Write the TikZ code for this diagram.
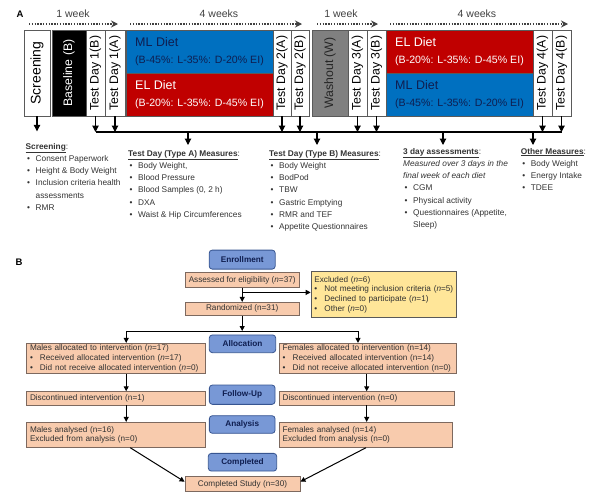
\documentclass[tikz,border=0pt]{standalone}
\usepackage{fontspec}
\setmainfont{Liberation Sans}
\usepackage{graphicx}
\usepackage{xcolor}
\usetikzlibrary{arrows.meta}

\definecolor{dietblue}{RGB}{0,112,192}
\definecolor{dietred}{RGB}{192,0,0}
\definecolor{navytext}{RGB}{15,30,80}
\definecolor{washgray}{RGB}{128,128,128}
\definecolor{boxline}{RGB}{90,90,90}
\definecolor{peach}{RGB}{248,203,173}
\definecolor{peachline}{RGB}{125,105,95}
\definecolor{stageblue}{RGB}{120,152,214}
\definecolor{stageline}{RGB}{55,85,145}
\definecolor{exclyellow}{RGB}{255,230,153}
\definecolor{txtgray}{RGB}{50,50,50}

\newcommand{\lbul}{\hspace*{1.5pt}\makebox[8.5pt][l]{\textbullet}}
\newcommand{\lcont}{\hspace*{10pt}}
\newcommand{\fbul}{\makebox[10pt][l]{\textbullet}}
\newcommand{\hd}[1]{\underline{\textbf{#1}}:}

\begin{document}
\begin{tikzpicture}[x=1pt,y=-1pt,
    vbox/.style={draw=boxline,line width=0.6pt,inner sep=0pt,minimum height=86pt,font=\fontsize{12.3}{14}\selectfont},
    diet/.style={draw=boxline,line width=0.6pt,inner sep=0pt,minimum width=147pt,minimum height=43pt,align=left,font=\fontsize{10.6}{17}\selectfont},
    week/.style={black!75,line width=1.4pt,dash pattern=on 1.3pt off 1.5pt,-{Stealth[length=7pt,width=7pt]}},
    wklabel/.style={text=black!75,font=\fontsize{10.5}{12}\selectfont},
    arr/.style={line width=1.1pt,-{Triangle[length=6.5pt,width=6.5pt]}},
    list/.style={anchor=north west,inner sep=0pt,align=left,text=black!80,font=\fontsize{8.3}{12.2}\selectfont},
    fbox/.style={draw=peachline,fill=peach,line width=0.8pt,inner xsep=3.3pt,inner ysep=0pt,align=left,text=txtgray,font=\fontsize{8.2}{9.7}\selectfont},
    stage/.style={draw=stageline,fill=stageblue,line width=0.8pt,rounded corners=3pt,text=navytext,font=\bfseries\fontsize{8.2}{9}\selectfont},
    farr/.style={line width=1pt,-{Triangle[length=5pt,width=5pt]}}]

  \useasboundingbox (0,0) rectangle (600,501);

  % panel A: timeline
  \node[font=\bfseries\fontsize{9.5}{11}\selectfont] (labA) at (20,14) {A};

  \node[wklabel] (wk1) at (73,14) {1 week};
  \node[wklabel] (wk2) at (219,14) {4 weeks};
  \node[wklabel] (wk3) at (341,14) {1 week};
  \node[wklabel] (wk4) at (477,14) {4 weeks};
  \draw[week] (29,24) -- (118,24);
  \draw[week] (130,24) -- (302,24);
  \draw[week] (317,24) -- (378,24);
  \draw[week] (390,24) -- (568,24);

  \node[vbox,minimum width=26pt] (screen) at (37,73) {\rotatebox{90}{\fontsize{14}{16}\selectfont Screening}};
  \node[vbox,fill=black,text=white,minimum width=34pt] (baseline) at (69,73) {\rotatebox{90}{Baseline (B)}};
  \node[vbox,minimum width=19pt] (td1b) at (95.5,73) {\rotatebox{90}{Test Day 1(B)}};
  \node[vbox,minimum width=20pt] (td1a) at (115,73) {\rotatebox{90}{Test Day 1(A)}};
  \node[diet,fill=dietblue,text=navytext] (ml1) at (199.5,51.5) {{\fontsize{12.5}{17}\selectfont ML Diet}\\(B-45\%: L-35\%: D-20\% EI)};
  \node[diet,fill=dietred,text=white] (el1) at (199.5,94.5) {{\fontsize{12.5}{17}\selectfont EL Diet}\\(B-20\%: L-35\%: D-45\% EI)};
  \node[vbox,minimum width=18pt] (td2a) at (282,73) {\rotatebox{90}{Test Day 2(A)}};
  \node[vbox,minimum width=18pt] (td2b) at (300,73) {\rotatebox{90}{Test Day 2(B)}};
  \node[vbox,fill=washgray,text=black!85,minimum width=36pt] (washout) at (330,73) {\rotatebox{90}{Washout (W)}};
  \node[vbox,minimum width=19pt] (td3a) at (357.5,73) {\rotatebox{90}{Test Day 3(A)}};
  \node[vbox,minimum width=19pt] (td3b) at (376.5,73) {\rotatebox{90}{Test Day 3(B)}};
  \node[diet,fill=dietred,text=white] (el2) at (459.5,51.5) {{\fontsize{12.5}{17}\selectfont EL Diet}\\(B-20\%: L-35\%: D-45\% EI)};
  \node[diet,fill=dietblue,text=navytext] (ml2) at (459.5,94.5) {{\fontsize{12.5}{17}\selectfont ML Diet}\\(B-45\%: L-35\%: D-20\% EI)};
  \node[vbox,minimum width=19pt] (td4a) at (542.5,73) {\rotatebox{90}{Test Day 4(A)}};
  \node[vbox,minimum width=19pt] (td4b) at (561.5,73) {\rotatebox{90}{Test Day 4(B)}};

  % collecting line under the test days
  \coordinate (busL) at (95.5,132);
  \coordinate (busR) at (561.5,132);
  \draw[line width=1.1pt] (busL) -- (busR);
  \foreach \n in {td1b,td1a,td2a,td2b,td3a,td3b,td4a,td4b}
    \draw[arr] (\n.south) -- (\n.south |- busL);
  \draw[arr] (screen.south) -- ++(0,15);
  \coordinate (dA) at (188,132);
  \coordinate (dB) at (317,132);
  \coordinate (dC) at (443,132);
  \coordinate (dD) at (533,132);
  \foreach \c in {dA,dB,dC,dD}
    \draw[arr] (\c) -- ++(0,13);

  \node[list] (scrList) at (25.5,143) {\hd{Screening}\\ \lbul Consent Paperwork\\ \lbul Height \& Body Weight\\ \lbul Inclusion criteria health\\ \lcont assessments\\ \lbul RMR};
  \node[list] (typeA) at (128,150) {\hd{Test Day (Type A) Measures}\\ \lbul Body Weight,\\ \lbul Blood Pressure\\ \lbul Blood Samples (0, 2 h)\\ \lbul DXA\\ \lbul Waist \& Hip Circumferences};
  \node[list] (typeB) at (269,150) {\hd{Test Day (Type B) Measures}\\ \lbul Body Weight\\ \lbul BodPod\\ \lbul TBW\\ \lbul Gastric Emptying\\ \lbul RMR and TEF\\ \lbul Appetite Questionnaires};
  \node[list] (threeDay) at (403,148) {\hd{3 day assessments}\\ \textit{Measured over 3 days in the}\\ \textit{final week of each diet}\\ \lbul CGM\\ \lbul Physical activity\\ \lbul Questionnaires (Appetite,\\ \lcont Sleep)};
  \node[list] (other) at (520.7,148) {\hd{Other Measures}\\ \lbul Body Weight\\ \lbul Energy Intake\\ \lbul TDEE};

  % panel B: participant flow
  \node[font=\bfseries\fontsize{9.5}{11}\selectfont] (labB) at (19,262) {B};

  \node[stage,minimum width=66pt,minimum height=19pt] (enrol) at (242.2,259.6) {Enrollment};
  \node[fbox,align=center,minimum width=114.3pt,minimum height=14.6pt] (assess) at (242.2,280) {Assessed for eligibility (\textit{n}=37)};
  \node[fbox,fill=exclyellow,draw=black!65,text width=139pt,minimum height=45.6pt] (excl) at (383.9,294.5) {Excluded (\textit{n}=6)\\ \fbul Not meeting inclusion criteria (\textit{n}=5)\\ \fbul Declined to participate (\textit{n}=1)\\ \fbul Other (\textit{n}=0)};
  \node[fbox,align=center,minimum width=114.3pt,minimum height=13pt] (rand) at (242.2,308.8) {Randomized (n=31)};
  \node[stage,minimum width=66.4pt,minimum height=17.7pt] (alloc) at (242.5,343.8) {Allocation};
  \node[fbox,text width=172.4pt,minimum height=30pt] (male) at (116.2,358.3) {Males allocated to intervention (\textit{n}=17)\\ \fbul Received allocated intervention (\textit{n}=17)\\ \fbul Did not receive allocated intervention (\textit{n}=0)};
  \node[fbox,text width=170.8pt,minimum height=30pt] (fema) at (368,358.3) {Females allocated to intervention (n=14)\\ \fbul Received allocated intervention (n=14)\\ \fbul Did not receive allocated intervention (n=0)};
  \node[stage,minimum width=65.7pt,minimum height=19.3pt] (follow) at (242.2,394.7) {Follow-Up};
  \node[fbox,text width=172.4pt,minimum height=13.3pt] (mdisc) at (116.2,398.3) {Discontinued intervention (n=1)};
  \node[fbox,text width=168.1pt,minimum height=13.3pt] (fdisc) at (366.7,398.3) {Discontinued intervention (n=0)};
  \node[stage,minimum width=65.7pt,minimum height=17.6pt] (anal) at (242.2,424.5) {Analysis};
  \node[fbox,text width=172.4pt,minimum height=25pt] (mana) at (116.2,434.8) {Males analysed (n=16)\\ Excluded from analysis (n=0)};
  \node[fbox,text width=166.8pt,minimum height=25pt] (fana) at (366,434.8) {Females analysed (n=14)\\ Excluded from analysis (n=0)};
  \node[stage,minimum width=68.4pt,minimum height=17.7pt] (compl) at (242.5,462.2) {Completed};
  \node[fbox,align=center,minimum width=115pt,minimum height=15pt] (study) at (242.5,484.2) {Completed Study (n=30)};

  \coordinate (exclJ) at (242.2,292.4);
  \coordinate (split) at (242.2,331);
  \draw[farr] (assess.south) -- (rand.north);
  \draw[farr] (exclJ) -- (exclJ -| excl.west);
  \draw[farr] (rand.south) -- (split);
  \draw[farr] (split) -| ([xshift=10pt]male.north);
  \draw[farr] (split) -| ([xshift=-10pt]fema.north);
  \draw[farr] ([xshift=10pt]male.south) -- ([xshift=10pt]mdisc.north);
  \draw[farr] ([xshift=10pt]mdisc.south) -- ([xshift=10pt]mana.north);
  \draw[farr] (fdisc.north |- fema.south) -- (fdisc.north);
  \draw[farr] (fdisc.south) -- (fdisc.south |- fana.north);
  \draw[farr] ([xshift=14pt]mana.south) -- ([yshift=2.5pt]study.west);
  \draw[farr] (fana.south) -- ([yshift=2.5pt]study.east);
\end{tikzpicture}
\end{document}
